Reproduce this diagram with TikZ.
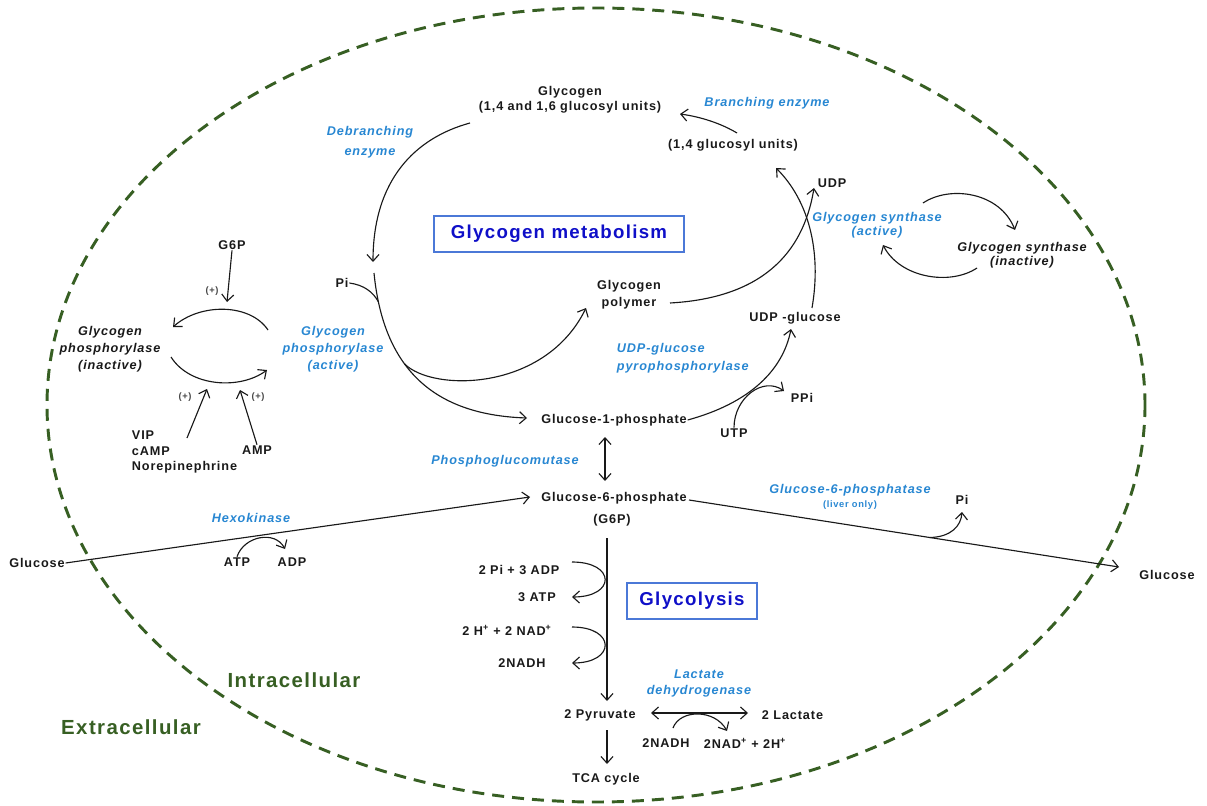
\documentclass[tikz,border=0pt]{standalone}
\usepackage{fontspec}
\setmainfont{Liberation Sans}
\newfontfamily\lab[LetterSpace=7]{Liberation Sans}
\usetikzlibrary{arrows.meta,calc}
\definecolor{enzc}{RGB}{40,135,210}
\definecolor{membc}{RGB}{55,95,35}
\definecolor{titlec}{RGB}{15,15,200}
\definecolor{boxc}{RGB}{75,120,215}
\definecolor{inkc}{RGB}{25,25,25}
\tikzset{
  txt/.style={text=inkc, align=center, inner sep=0.5pt, font=\lab\bfseries\fontsize{9.5}{#1}\selectfont},
  txt/.default=11,
  itx/.style={text=inkc, align=center, inner sep=0.5pt, font=\lab\bfseries\itshape\fontsize{9.5}{#1}\selectfont},
  itx/.default=11,
  enzt/.style={itx=#1, text=enzc},
  enzt/.default=11,
  plus/.style={text=inkc!80, inner sep=0.5pt, font=\lab\bfseries\fontsize{7}{8}\selectfont},
  titlebox/.style={draw=boxc, line width=1.5pt, text=titlec, font=\lab\bfseries\fontsize{14}{16}\selectfont, minimum height=27.5pt, inner sep=0pt},
  memt/.style={text=membc, font=\lab\bfseries\fontsize{15.3}{18}\selectfont},
  ln/.style={draw=inkc, line width=0.85pt},
  arr/.style={ln, -{Straight Barb[length=5pt,width=9pt]}},
  darr/.style={ln, {Straight Barb[length=5pt,width=9pt]}-{Straight Barb[length=5pt,width=9pt]}},
}
\begin{document}
\begin{tikzpicture}[x=0.75pt,y=-0.75pt]
\useasboundingbox (0,0) rectangle (1207,806);
% cell membrane
\draw[membc, line width=2.2pt, dash pattern=on 9pt off 6pt] (596,405) ellipse [x radius=549, y radius=397];

% ---------- text nodes ----------
\node[txt=11.25] (glyc) at (570,100) {Glycogen\\(1,4 and 1,6 glucosyl units)};
\node[enzt] (branch) at (767,103) {Branching enzyme};
\node[txt] (g14) at (733,145) {(1,4 glucosyl units)};
\node[enzt=15] (debr) at (370,142) {Debranching\\enzyme};
\node[titlebox, minimum width=187pt] (meta) at (559,234) {Glycogen metabolism};
\node[txt] (udp) at (832,183) {UDP};
\node[enzt=10.5] (gsa) at (877,225) {Glycogen synthase\\(active)};
\node[itx=10.5] (gsi) at (1022,255) {Glycogen synthase\\(inactive)};
\node[txt] (g6ps) at (232,245) {G6P};
\node[plus] (p1) at (212,291) {(+)};
\node[txt] (pi1) at (342,283) {Pi};
\node[txt=12.75] (poly) at (629,295) {Glycogen\\polymer};
\node[itx=12.75] (gpi) at (110,349) {Glycogen\\phosphorylase\\(inactive)};
\node[enzt=12.75] (gpa) at (333,349) {Glycogen\\phosphorylase\\(active)};
\node[txt] (udpg) at (795,318) {UDP -glucose};
\node[enzt=13.5, align=left, anchor=west] (ugpp) at (616,358) {UDP-glucose\\pyrophosphorylase};
\node[plus] (p2) at (185,397) {(+)};
\node[plus] (p3) at (258,397) {(+)};
\node[txt] (ppi) at (802,398) {PPi};
\node[txt] (g1p) at (614,420) {Glucose-1-phosphate};
\node[txt] (utp) at (734,433) {UTP};
\node[txt=11.6, align=left, anchor=west] (vip) at (131,452) {VIP\\cAMP\\Norepinephrine};
\node[txt] (amp) at (257,450) {AMP};
\node[enzt] (pgm) at (505,461) {Phosphoglucomutase};
\node[txt] (g6p) at (614,498) {Glucose-6-phosphate};
\node[txt] (g6pb) at (612,520) {(G6P)};
\node[enzt] (g6pase) at (850,490) {Glucose-6-phosphatase};
\node[text=enzc, font=\lab\bfseries\fontsize{7}{8}\selectfont, inner sep=0.5pt] (liver) at (850,505) {(liver only)};
\node[txt] (pi2) at (962,500) {Pi};
\node[enzt] (hexo) at (251,518) {Hexokinase};
\node[txt] (glcl) at (37,563) {Glucose};
\node[txt] (glcr) at (1167,575) {Glucose};
\node[txt] (atp) at (237,562) {ATP};
\node[txt] (adp) at (292,562) {ADP};
\node[txt] (pi3adp) at (519,570) {2 Pi + 3 ADP};
\node[txt] (atp3) at (537,597) {3 ATP};
\node[titlebox, minimum width=97pt] (glyco) at (692,601) {Glycolysis};
\node[txt] (hnad) at (507,630) {2 H\textsuperscript{+} + 2 NAD\textsuperscript{+}};
\node[txt] (nadh1) at (522,663) {2NADH};
\node[memt] (intra) at (294,680) {Intracellular};
\node[enzt=12] (ldh) at (699,683) {Lactate\\dehydrogenase};
\node[memt] (extra) at (131,727) {Extracellular};
\node[txt] (pyr) at (600,715) {2 Pyruvate};
\node[txt, anchor=west] (lac) at (761,715) {2 Lactate};
\node[txt] (nadh2) at (666,743) {2NADH};
\node[txt] (nadp) at (745,743) {2NAD\textsuperscript{+} + 2H\textsuperscript{+}};
\node[txt] (tca) at (606,779) {TCA cycle};

% ---------- connector end points ----------
\coordinate (debS) at (470,123);
\coordinate (debE) at (373,262);
\coordinate (brS) at (737,133);
\coordinate (brE) at (680,114);
\coordinate (ugS) at (812,308);
\coordinate (ugE) at (776,168);
\coordinate (polyS) at (670,303);
\coordinate (udpE) at (814,188);
\coordinate (piS) at (374,273);
\coordinate (g1pE) at (527,418);
\coordinate (polyE) at (586,308);
\coordinate (ug2E) at (791,329);
\coordinate (ppiE) at (784,391);
\coordinate (pgmT) at (605,437);
\coordinate (pgmB) at (605,481);
\coordinate (hexE) at (530,497);
\coordinate (adpE) at (285,549);
\coordinate (g6pS) at (689,500);
\coordinate (glcE) at (1119,567);
\coordinate (pi2E) at (962,512);
\coordinate (glyS) at (607,538);
\coordinate (glyE) at (607,701);
\coordinate (adpS) at (572,562);
\coordinate (atpE) at (572,597);
\coordinate (nadS) at (572,627);
\coordinate (nadhE) at (572,663);
\coordinate (pyrS) at (607,730);
\coordinate (tcaE) at (607,764);
\coordinate (lacL) at (651,713);
\coordinate (lacR) at (748,713);
\coordinate (ldS) at (673,728);
\coordinate (ldE) at (727,731);
\coordinate (gpTS) at (268,330);
\coordinate (gpTE) at (173,327);
\coordinate (gpBS) at (171,357);
\coordinate (gpBE) at (267,370);
\coordinate (g6sE) at (227,302);
\coordinate (vipS) at (187,438);
\coordinate (vipE) at (207,389);
\coordinate (ampE) at (240,390);
\coordinate (gsTS) at (923,203);
\coordinate (gsTE) at (1015,230);
\coordinate (gsBS) at (977,268);
\coordinate (gsBE) at (883,245);

% ---------- glycogen metabolism ----------
\draw[arr] (debS) .. controls (415,138) and (373,180) .. (debE);
\draw[arr] (brS) .. controls (722,124) and (702,117) .. (brE);
\draw[arr] (ugS) .. controls (822,250) and (808,200) .. (ugE);
\draw[arr] (polyS) .. controls (760,298) and (803,255) .. (udpE);
\draw[arr] (piS) .. controls (384,375) and (440,415) .. (g1pE)
  coordinate[pos=0.38] (piBr) coordinate[pos=0.1] (piTk);
\draw[ln] (pi1.east) .. controls (364,285) and (373,292) .. (piTk);
\draw[arr] (piBr) .. controls (432,392) and (545,392) .. (polyE);
\draw[arr] (g1p.east) .. controls (750,403) and (783,370) .. (ug2E);
\draw[arr] (utp.north) .. controls (734,398) and (763,376) .. (ppiE);
\draw[darr] (pgmT) -- (pgmB);

% ---------- phosphorylase regulation ----------
\draw[arr] (gpTS) .. controls (250,303) and (200,303) .. (gpTE);
\draw[arr] (gpBS) .. controls (190,387) and (240,390) .. (gpBE);
\draw[arr] (g6ps.south) -- (g6sE);
\draw[arr] (vipS) -- (vipE);
\draw[arr] (amp.north) -- (ampE);

% ---------- synthase regulation ----------
\draw[arr] (gsTS) .. controls (950,185) and (1000,192) .. (gsTE);
\draw[arr] (gsBS) .. controls (950,286) and (900,278) .. (gsBE);

% ---------- glucose entry / exit ----------
\draw[arr] (glcl.east) -- (hexE);
\draw[arr] (atp.north) .. controls (244,536) and (275,530) .. (adpE);
\draw[arr] (g6pS) -- (glcE) coordinate[pos=0.56] (piB);
\draw[arr] (piB) .. controls (951,537) and (961,526) .. (pi2E);

% ---------- glycolysis ----------
\draw[arr] (glyS) -- (glyE);
\draw[arr] (adpS) .. controls (616,562) and (616,597) .. (atpE);
\draw[arr] (nadS) .. controls (616,627) and (616,663) .. (nadhE);
\draw[arr] (pyrS) -- (tcaE);
\draw[darr] (lacL) -- (lacR);
\draw[arr] (ldS) .. controls (680,709) and (715,709) .. (ldE);
\end{tikzpicture}
\end{document}
